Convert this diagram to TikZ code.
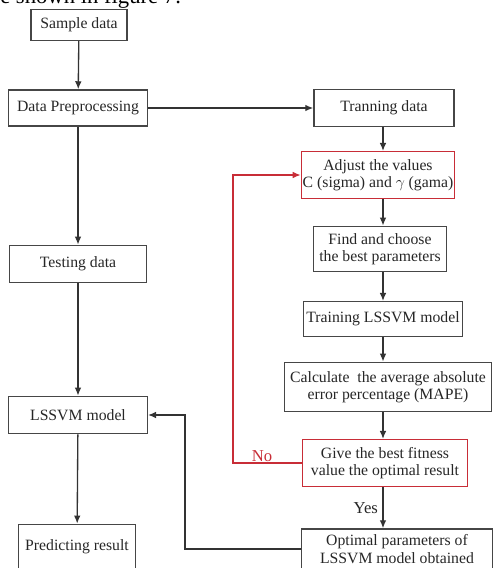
\documentclass[tikz,border=0pt]{standalone}
\usepackage{fontspec}
\setmainfont{Liberation Serif}
\usetikzlibrary{arrows.meta}
\definecolor{boxline}{RGB}{70,70,70}
\definecolor{loopred}{RGB}{200,45,55}
\tikzset{
  stepbox/.style={draw=boxline, line width=1.1pt, align=center, inner sep=1pt,
    font=\fontsize{11.8}{13}\selectfont, text=black!85},
  redbox/.style={stepbox, draw=loopred},
  flow/.style={draw=black!80, line width=1pt, -{Latex[length=6pt,width=5pt]}},
  redflow/.style={draw=loopred, line width=1pt, -{Latex[length=6pt,width=5pt]}}
}
\begin{document}
\begin{tikzpicture}[x=0.75pt,y=-0.75pt]
\useasboundingbox (0,0) rectangle (493,568);
\clip (0,0) rectangle (493,568);

% cut-off line of the page text
\node[anchor=base west, inner sep=0, font=\fontsize{17}{20}\selectfont] (cap) at (0,3) {e shown in figure 7.};

% left column
\node[stepbox, minimum width=72pt, minimum height=23pt] (sample) at (79,25) {Sample data};
\node[stepbox, minimum width=104pt, minimum height=27pt] (prep) at (78,108) {Data Preprocessing};
\node[stepbox, minimum width=103pt, minimum height=28pt] (testing) at (78,264) {Testing data};
\node[stepbox, minimum width=104pt, minimum height=28pt] (lssvm) at (78,415) {LSSVM model};
\node[stepbox, minimum width=88pt, minimum height=34pt] (predict) at (77,547) {Predicting result};

% right column
\node[stepbox, minimum width=105pt, minimum height=28pt] (train) at (384,108) {Tranning data};
\node[redbox, minimum width=112pt, minimum height=35pt] (adjust) at (378,175) {Adjust the values\\C (sigma) and $\gamma$ (gama)};
\node[stepbox, minimum width=100pt, minimum height=34pt] (find) at (380,249) {Find and choose\\the best parameters};
\node[stepbox, minimum width=119pt, minimum height=26pt] (model) at (383,319) {Training LSSVM model};
\node[stepbox, minimum width=155pt, minimum height=37pt] (calc) at (388,387) {Calculate\ \ the average absolute\\error percentage (MAPE)};
\node[redbox, minimum width=124pt, minimum height=35pt] (fitness) at (385,463) {Give the best fitness\\value the optimal result};
\node[stepbox, minimum width=143pt, minimum height=30pt] (optimal) at (397,549) {Optimal parameters of\\LSSVM model obtained};

\coordinate (spine) at (383,0);
\coordinate (nocorner) at (233,0);
\coordinate (backcorner) at (185,0);

% arrows
\draw[flow] (sample) -- (prep);
\draw[flow] (prep) -- (testing);
\draw[flow] (testing) -- (lssvm);
\draw[flow] (lssvm) -- (predict);
\draw[flow] (prep) -- (train);
\draw[flow] (spine |- train.south) -- (spine |- adjust.north);
\draw[flow] (spine |- adjust.south) -- (spine |- find.north);
\draw[flow] (spine |- find.south) -- (spine |- model.north);
\draw[flow] (spine |- model.south) -- (spine |- calc.north);
\draw[flow] (spine |- calc.south) -- (spine |- fitness.north);
\draw[flow] (spine |- fitness.south) -- node[left, font=\fontsize{12.5}{14}\selectfont, text=black!85] (yes) {Yes} (spine |- optimal.north);
\draw[redflow] (fitness.west) -- (nocorner |- fitness.west) |- (adjust.west);
\node[text=loopred, font=\fontsize{12.5}{14}\selectfont, anchor=south] (no) at (262,466) {No};
\draw[flow] (optimal.west) -- (backcorner |- optimal.west) |- (lssvm.east);
\end{tikzpicture}
\end{document}
